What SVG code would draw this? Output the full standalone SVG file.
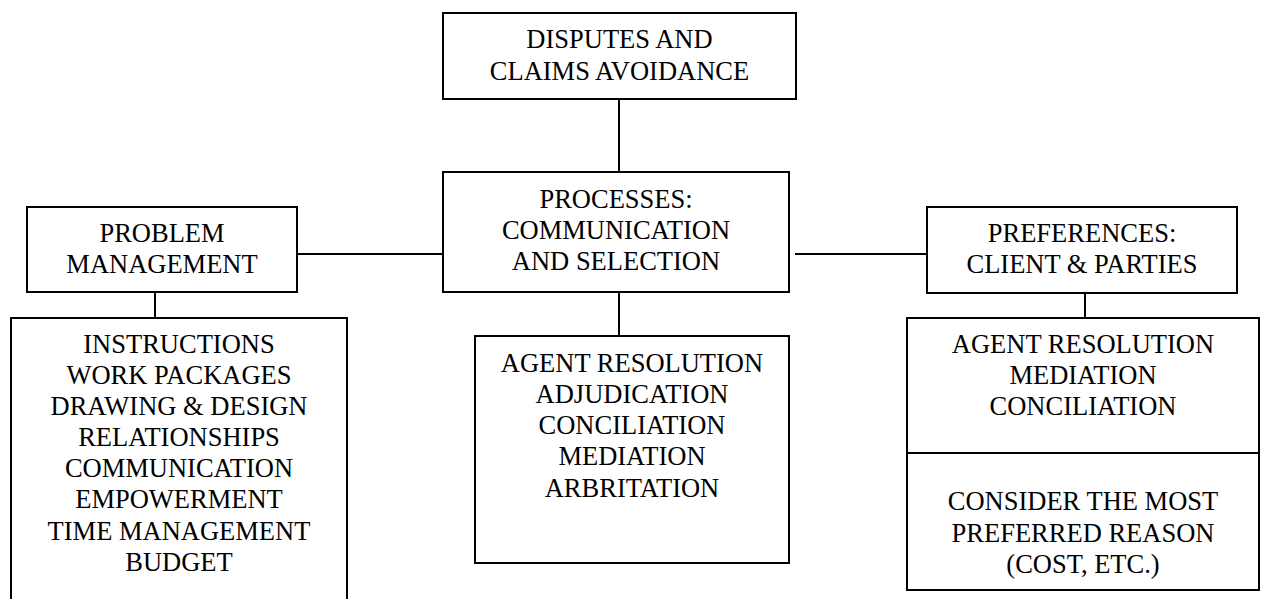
<svg xmlns="http://www.w3.org/2000/svg" width="1261" height="599" viewBox="0 0 1261 599">
<style>
.box{fill:#fff;stroke:#000;stroke-width:2}
.ln{stroke:#000;stroke-width:2;fill:none}
text{font-family:"Liberation Serif","Times New Roman",serif;font-size:26.5px;fill:#000;text-anchor:middle}
</style>
<rect width="1261" height="599" fill="#fff"/>
<g id="connectors">
<line class="ln" x1="619" y1="99" x2="619" y2="172"/>
<line class="ln" x1="297" y1="254" x2="443" y2="254"/>
<line class="ln" x1="795" y1="254" x2="927" y2="254"/>
<line class="ln" x1="155" y1="292" x2="155" y2="318"/>
<line class="ln" x1="619" y1="292" x2="619" y2="336"/>
<line class="ln" x1="1085" y1="293" x2="1085" y2="318"/>
</g>
<g id="node-disputes">
<rect class="box" x="443" y="13" width="353" height="86"/>
<text x="619.5" y="48">DISPUTES AND</text>
<text x="619.5" y="80">CLAIMS AVOIDANCE</text>
</g>
<g id="node-processes">
<rect class="box" x="443" y="172" width="346" height="120"/>
<text x="616" y="208">PROCESSES:</text>
<text x="616" y="239">COMMUNICATION</text>
<text x="616" y="270">AND SELECTION</text>
</g>
<g id="node-problem">
<rect class="box" x="27" y="207" width="270" height="85"/>
<text x="162" y="242">PROBLEM</text>
<text x="162" y="273">MANAGEMENT</text>
</g>
<g id="node-preferences">
<rect class="box" x="927" y="207" width="310" height="86"/>
<text x="1082" y="242">PREFERENCES:</text>
<text x="1082" y="273">CLIENT &amp; PARTIES</text>
</g>
<g id="node-problem-list">
<rect class="box" x="11" y="318" width="336" height="300"/>
<text x="179" y="353">INSTRUCTIONS</text>
<text x="179" y="384">WORK PACKAGES</text>
<text x="179" y="415">DRAWING &amp; DESIGN</text>
<text x="179" y="446">RELATIONSHIPS</text>
<text x="179" y="477">COMMUNICATION</text>
<text x="179" y="508">EMPOWERMENT</text>
<text x="179" y="540">TIME MANAGEMENT</text>
<text x="179" y="571">BUDGET</text>
</g>
<g id="node-process-list">
<rect class="box" x="475" y="336" width="314" height="227"/>
<text x="632" y="372">AGENT RESOLUTION</text>
<text x="632" y="403">ADJUDICATION</text>
<text x="632" y="434">CONCILIATION</text>
<text x="632" y="465">MEDIATION</text>
<text x="632" y="497">ARBRITATION</text>
</g>
<g id="node-preference-list">
<rect class="box" x="907" y="318" width="352" height="272"/>
<line class="ln" x1="907" y1="453" x2="1259" y2="453"/>
<text x="1083" y="353">AGENT RESOLUTION</text>
<text x="1083" y="384">MEDIATION</text>
<text x="1083" y="415">CONCILIATION</text>
<text x="1083" y="510">CONSIDER THE MOST</text>
<text x="1083" y="542">PREFERRED REASON</text>
<text x="1083" y="573">(COST, ETC.)</text>
</g>
</svg>
